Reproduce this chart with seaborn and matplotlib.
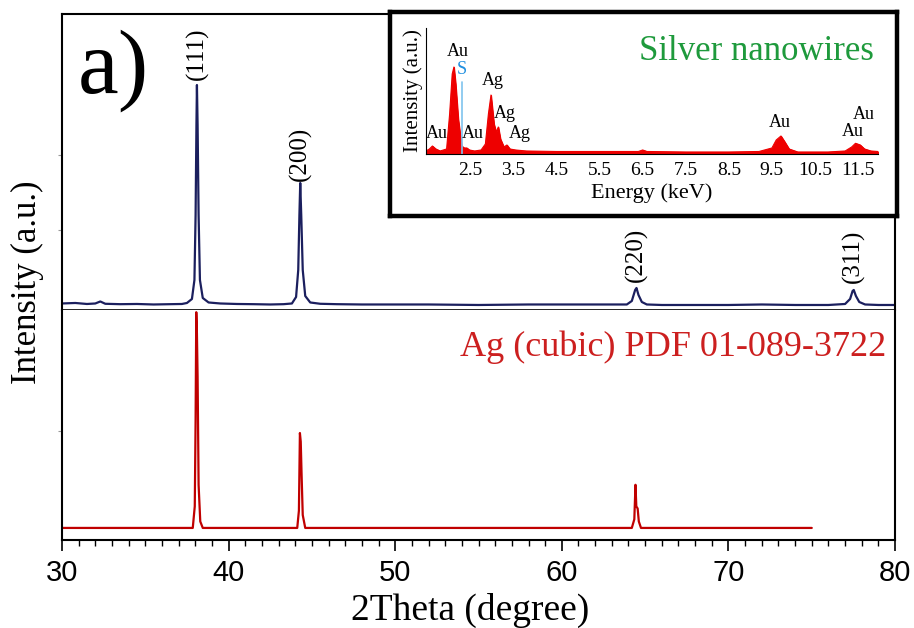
import matplotlib
matplotlib.use("Agg")
import matplotlib.pyplot as plt
from matplotlib.ticker import MultipleLocator
import seaborn as sns

# -------------------------
# XRD data
# -------------------------
xrd_2theta = [30.0, 30.8, 31.5, 32.0, 32.3, 32.6, 33.5, 34.5, 35.5, 36.5, 37.2, 37.5,
              37.8, 37.95, 38.02, 38.07, 38.1, 38.14, 38.2, 38.28, 38.45, 38.8, 39.5, 40.5,
              41.5, 42.5, 43.3, 43.8, 44.05, 44.18, 44.25, 44.3, 44.36, 44.45, 44.6, 44.9,
              45.5, 46.5, 48.0, 50.0, 52.0, 55.0, 58.0, 61.0, 63.0, 63.9, 64.2, 64.4,
              64.48, 64.6, 64.8, 65.1, 66.0, 68.0, 70.0, 72.0, 74.0, 76.0, 77.0, 77.3,
              77.45, 77.52, 77.65, 77.85, 78.2, 79.0, 80.0]
xrd_counts = [15, 20, 10, 15, 35, 12, 8, 10, 5, 8, 10, 20,
              60, 250, 900, 1800, 2200, 1800, 900, 250, 70, 25, 15, 10,
              8, 5, 8, 15, 80, 350, 900, 1220, 900, 350, 90, 25,
              12, 8, 5, 5, 5, 0, 5, 5, 5, 5, 40, 150,
              170, 100, 30, 5, 0, 0, 0, 5, 0, 0, 10, 60,
              140, 150, 90, 30, 5, 0, 0]

# reference pattern Ag (cubic) PDF 01-089-3722
ref_2theta = [30.0, 37.85, 37.97, 38.02, 38.06, 38.1, 38.14, 38.2, 38.3, 38.45,
              44.12, 44.22, 44.28, 44.33, 44.38, 44.45, 44.6,
              64.2, 64.35, 64.42, 64.47, 64.55, 64.62, 64.75, 75.0]
ref_counts = [0, 0, 10, 50, 100, 90, 70, 20, 3, 0,
              0, 8, 44, 40, 25, 6, 0,
              0, 4, 20, 10, 9, 3, 0, 0]

peak_labels = ["(111)", "(200)", "(220)", "(311)"]
peak_pos = [38.1, 44.3, 64.48, 77.52]
peak_label_y = [2250, 1240, 230, 220]

# -------------------------
# EDS inset data
# -------------------------
eds_kev = [1.47, 1.55, 1.62, 1.7, 1.8, 1.95, 2.02, 2.08, 2.12, 2.16, 2.22, 2.3,
           2.36, 2.42, 2.48, 2.6, 2.75, 2.85, 2.92, 2.98, 3.05, 3.1, 3.15, 3.2,
           3.28, 3.35, 3.42, 3.55, 3.8, 4.5, 5.5, 6.4, 6.5, 6.6, 7.5, 8.5,
           9.2, 9.5, 9.6, 9.71, 9.8, 9.9, 10.1, 10.8, 11.2, 11.35, 11.44, 11.55,
           11.65, 11.8, 11.96]
eds_counts = [3, 5, 8, 5, 3, 5, 40, 80, 87, 70, 35, 8,
              6, 6, 4, 3, 4, 10, 40, 59, 30, 22, 27, 15,
              7, 9, 5, 4, 3, 2.5, 2.5, 2.5, 4, 2.5, 2, 2,
              2.5, 6, 14, 18, 12, 5, 2, 2, 3, 7, 10.7, 9,
              5, 3, 2.5]

eds_labels = ["Au", "Au", "Au", "Ag", "Ag", "Ag", "Au", "Au", "Au"]
eds_label_x = [1.72, 2.2, 2.56, 3.02, 3.29, 3.64, 9.68, 11.38, 11.63]
eds_label_y = [12, 94, 12, 65, 32, 12, 23, 14, 31]
eds_ticks = [2.5, 3.5, 4.5, 5.5, 6.5, 7.5, 8.5, 9.5, 10.5, 11.5]

# -------------------------
# style
# -------------------------
sns.set_theme(style="ticks")
plt.rcParams["font.family"] = ["Liberation Serif", "DejaVu Serif"]
plt.rcParams["axes.edgecolor"] = "black"
plt.rcParams["text.color"] = "black"
plt.rcParams["axes.labelcolor"] = "black"
plt.rcParams["xtick.color"] = "black"
plt.rcParams["ytick.color"] = "black"

fig = plt.figure(figsize=(9.14, 6.28), dpi=100)
ax_top = fig.add_axes([0.0678, 0.5064, 0.9115, 0.4713])
ax_bot = fig.add_axes([0.0678, 0.1401, 0.9115, 0.3662], sharex=ax_top)

# 上面：样品 XRD
sns.lineplot(x=xrd_2theta, y=xrd_counts, ax=ax_top, color="#1b1f5e", lw=1.6)
ax_top.set_ylim(-50, 2910)
ax_top.set_yticks([750, 1500])
ax_top.set_yticklabels([])
for lab, px, py in zip(peak_labels, peak_pos, peak_label_y):
    ax_top.text(px, py, lab, rotation=90, ha="center", va="bottom", fontsize=18)
ax_top.text(0.019, 0.736, "a)", transform=ax_top.transAxes, fontsize=66,
            ha="left", va="baseline")
ax_top.tick_params(axis="x", which="both", bottom=False, labelbottom=False)

# 下面：标准卡片
sns.lineplot(x=ref_2theta, y=ref_counts, ax=ax_bot, color="#c00000", lw=1.6)
ax_bot.set_ylim(-5.6, 101)
ax_bot.set_yticks([45])
ax_bot.set_yticklabels([])
ax_bot.text(0.99, 0.80, "Ag (cubic) PDF 01-089-3722", transform=ax_bot.transAxes,
            color="#cc1f1f", fontsize=26, ha="right", va="baseline")

ax_bot.set_xlim(30, 80)
ax_bot.set_xticks([30, 40, 50, 60, 70, 80], labels=["30", "40", "50", "60", "70", "80"],
                  fontfamily="Liberation Sans", fontsize=21)
ax_bot.xaxis.set_minor_locator(MultipleLocator(1))
ax_bot.tick_params(axis="x", which="major", direction="out", length=8, width=1.2, pad=6)
ax_bot.tick_params(axis="x", which="minor", direction="out", length=4, width=1.0)

for ax in (ax_top, ax_bot):
    ax.tick_params(axis="y", length=3, width=0.8, color="#999999")
    ax.set_xlabel("")
    ax.set_ylabel("")
    for sp in ax.spines.values():
        sp.set_linewidth(1.5)
ax_top.spines["bottom"].set_linewidth(1.2)
ax_bot.spines["top"].set_visible(False)

fig.text(0.514, 0.028, "2Theta (degree)", ha="center", va="center", fontsize=27)
fig.text(0.03, 0.55, "Intensity (a.u.)", ha="center", va="center", fontsize=25,
         rotation=90)

# -------------------------
# inset EDS
# -------------------------
ax_frame = fig.add_axes([0.4267, 0.656, 0.5547, 0.3248], zorder=5)
ax_frame.set_facecolor("white")
ax_frame.set_xticks([])
ax_frame.set_yticks([])
for sp in ax_frame.spines.values():
    sp.set_linewidth(3.2)

ax_in = fig.add_axes([0.466, 0.7548, 0.4945, 0.2006], zorder=6)
ax_in.set_facecolor("none")
ax_in.fill_between(eds_kev, eds_counts, 0, color="#ee0000", lw=0.8)
sns.lineplot(x=eds_kev, y=eds_counts, ax=ax_in, color="#ee0000", lw=0.8)
ax_in.plot([2.31, 2.31], [0, 72], color="#7fc3ee", lw=1.2)
ax_in.text(2.31, 76, "S", color="#1f8fe0", fontsize=13, ha="center", va="bottom")
for lab, ex, ey in zip(eds_labels, eds_label_x, eds_label_y):
    ax_in.text(ex, ey, lab, fontsize=13, ha="center", va="bottom")
ax_in.text(0.99, 0.746, "Silver nanowires", transform=ax_in.transAxes, color="#1e9a3c",
           fontsize=25, ha="right", va="baseline")
ax_in.set_xlim(1.47, 11.96)
ax_in.set_ylim(0, 126)
ax_in.set_xticks(eds_ticks, labels=[str(t) for t in eds_ticks], fontsize=14)
ax_in.set_yticks([])
ax_in.tick_params(axis="x", length=0, pad=6)
ax_in.spines["top"].set_visible(False)
ax_in.spines["right"].set_visible(False)
ax_in.spines["left"].set_linewidth(0.8)
ax_in.spines["bottom"].set_linewidth(0.8)
ax_in.set_xlabel("Energy (keV)", fontsize=16, labelpad=3)
ax_in.set_ylabel("Intensity (a.u.)", fontsize=15, labelpad=2)

fig.savefig("out.png", dpi=100)
